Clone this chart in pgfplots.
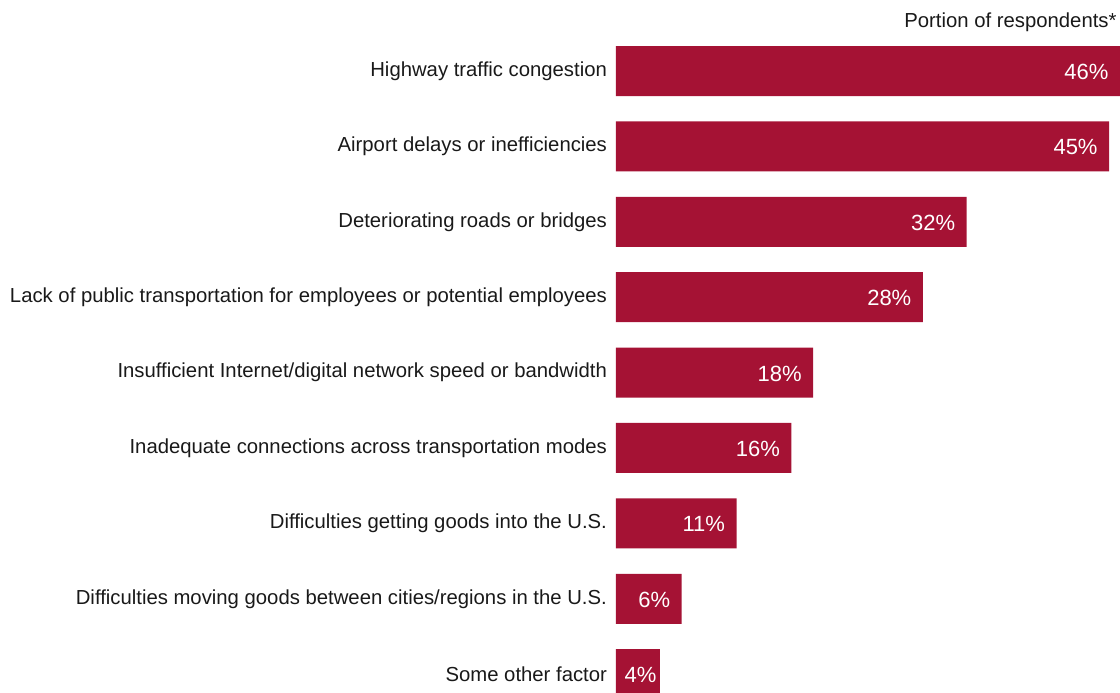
\documentclass[border=0pt]{standalone}
\usepackage{fontspec}
\setmainfont{Liberation Sans}
\usepackage{pgfplots}
\pgfplotsset{compat=1.18}
\definecolor{barred}{HTML}{A51234}

\begin{document}
\begin{tikzpicture}
\begin{axis}[
  xbar, bar width=25pt,
  scale only axis, width=252pt, height=346.5pt,
  xmin=0, xmax=46,
  ymin=-0.942, ymax=8.25, y dir=reverse,
  axis line style={draw=none},
  hide x axis,
  ytick={0,...,8},
  yticklabels={
    Highway traffic congestion,
    Airport delays or inefficiencies,
    Deteriorating roads or bridges,
    Lack of public transportation for employees or potential employees,
    Insufficient Internet/digital network speed or bandwidth,
    Inadequate connections across transportation modes,
    Difficulties getting goods into the U.S.,
    Difficulties moving goods between cities/regions in the U.S.,
    Some other factor},
  yticklabel style={font=\fontsize{10.15}{12}\selectfont, text=black!90, anchor=east, xshift=-1pt},
  major tick length=0pt,
  visualization depends on={rawx \as \rawx},
  nodes near coords={\pgfmathprintnumber[assume math mode=true]{\pgfplotspointmeta}\%},
  nodes near coords style={font=\fontsize{11}{13}\selectfont, text=white, anchor=east,
    xshift={ifthenelse(\rawx<5,1.8,-2.2)*1pt}, yshift=-0.5pt},
  point meta=x,
]
\addplot[fill=barred, draw=none] coordinates {
  (46,0) (45,1) (32,2) (28,3) (18,4) (16,5) (11,6) (6,7) (4,8)
};
\node[anchor=east, font=\fontsize{10.15}{12}\selectfont, text=black!90]
  at ([xshift=1.8pt, yshift=-11pt]rel axis cs:1,1) {Portion of respondents*};
\end{axis}
\pgfresetboundingbox
\path[use as bounding box] ([xshift=-308pt]current axis.south west) rectangle (current axis.north east);
\end{tikzpicture}
\end{document}
